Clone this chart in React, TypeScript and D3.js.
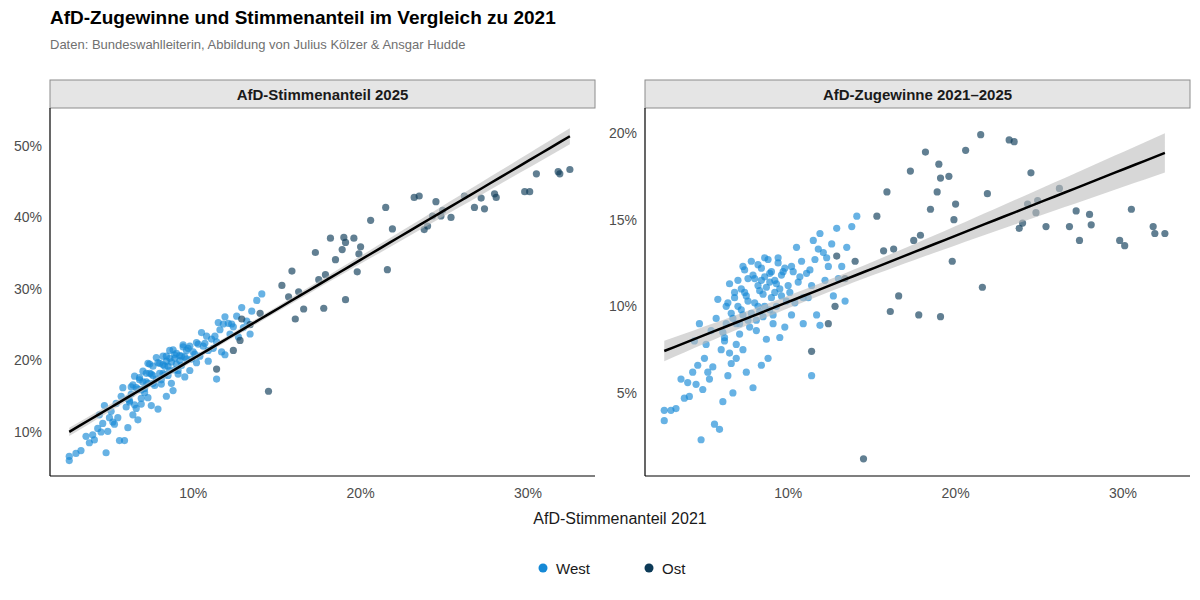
import * as d3 from "d3";
import * as React from "react";

// [AfD share 2021, gain 2021–2025] in percentage points
const westPoints: [number, number][] = [
  [2.6, 4.0], [2.6, 3.4], [3.0, 4.0], [3.3, 4.1], [3.6, 5.8], [3.8, 4.7], [4.0, 5.6], [4.1, 4.8],
  [4.3, 6.2], [4.5, 5.5], [4.6, 6.6], [4.8, 2.3], [4.9, 5.2], [5.1, 7.8], [5.3, 5.8], [5.4, 8.6],
  [5.5, 6.5], [5.6, 3.2], [5.7, 9.3], [5.9, 2.9], [5.8, 10.4], [6.0, 7.5], [6.1, 4.5], [6.2, 8.0],
  [6.3, 10.0], [6.5, 7.3], [6.6, 6.7], [6.7, 5.0], [4.4, 8.0], [5.0, 7.0], [5.2, 6.2], [4.7, 9.0],
  [6.1, 8.5], [6.3, 9.0], [6.6, 9.6], [6.4, 10.2], [6.8, 10.8], [6.5, 11.3], [6.9, 7.8], [6.2, 8.2],
  [6.7, 9.3], [6.4, 6.0], [6.9, 7.0], [6.8, 10.5], [7.1, 9.0], [7.3, 9.5], [7.0, 10.0], [7.5, 10.6],
  [7.2, 11.0], [7.6, 11.6], [7.4, 12.1], [7.8, 12.6], [7.1, 8.4], [7.7, 8.8], [7.3, 7.5], [7.5, 6.2],
  [7.9, 5.3], [7.9, 11.8], [7.6, 10.3], [7.2, 9.8], [8.1, 9.2], [8.3, 9.7], [8.0, 10.2], [8.5, 10.7],
  [8.2, 11.2], [8.6, 11.7], [8.4, 12.2], [8.8, 12.7], [8.1, 8.6], [8.7, 8.1], [8.9, 11.9], [8.3, 10.9],
  [8.6, 10.0], [8.9, 11.4], [8.2, 12.4], [8.5, 9.4], [8.8, 7.0], [8.4, 6.6], [9.1, 9.5], [9.3, 10.0],
  [9.0, 10.5], [9.5, 11.0], [9.2, 11.5], [9.7, 12.0], [9.4, 12.5], [9.8, 8.8], [9.1, 9.0], [9.6, 11.8],
  [9.9, 10.3], [9.3, 11.3], [9.8, 12.2], [9.5, 8.2], [10.2, 9.5], [10.4, 10.2], [10.1, 10.8], [10.6, 11.4],
  [10.3, 12.0], [10.8, 12.6], [10.5, 13.4], [10.9, 9.0], [10.7, 11.7], [10.2, 12.3], [10.9, 10.5], [11.2, 10.5],
  [11.4, 11.2], [11.1, 11.9], [11.6, 12.7], [11.8, 13.3], [11.5, 13.8], [11.9, 14.2], [11.4, 6.0], [11.7, 9.5],
  [11.3, 12.1], [11.9, 8.9], [12.2, 11.5], [12.4, 12.3], [12.1, 13.1], [12.6, 13.6], [12.9, 14.5], [12.7, 10.6],
  [12.3, 12.8], [13.2, 12.3], [13.5, 13.4], [13.8, 14.6], [13.4, 10.3], [13.0, 11.6], [14.1, 15.2], [7.0, 11.5],
  [7.4, 10.8], [7.8, 9.6], [8.0, 11.6], [8.2, 10.0], [8.7, 11.1], [9.0, 12.0], [9.2, 10.8], [8.9, 9.8],
  [7.6, 9.2], [6.9, 9.0], [8.4, 11.5], [9.6, 10.6], [10.0, 11.2], [7.3, 12.3], [8.6, 12.8], [9.4, 12.8],
];

const eastPoints: [number, number][] = [
  [14.5, 1.2], [15.3, 15.2], [15.7, 13.2], [15.9, 16.6], [16.1, 9.7], [16.3, 13.3], [16.6, 10.6], [17.3, 17.8],
  [17.5, 13.8], [17.9, 14.1], [17.8, 9.5], [18.2, 18.9], [18.5, 15.6], [18.9, 16.6], [19.1, 17.4], [19.0, 18.2],
  [19.1, 9.4], [19.6, 17.5], [19.8, 12.6], [19.9, 15.0], [20.0, 15.9], [20.6, 19.0], [21.5, 19.9], [21.6, 11.1],
  [21.9, 16.5], [23.2, 19.6], [23.5, 19.5], [23.8, 14.5], [24.0, 14.8], [24.3, 15.9], [24.5, 17.7], [24.8, 15.4],
  [24.9, 16.1], [25.4, 14.6], [26.2, 16.8], [26.8, 14.6], [27.2, 15.5], [27.4, 13.8], [28.0, 15.3], [28.1, 14.7],
  [29.8, 13.8], [30.1, 13.5], [30.5, 15.6], [31.8, 14.6], [31.9, 14.2], [32.5, 14.2], [11.4, 7.4], [12.4, 9.0],
  [12.8, 10.0], [12.9, 12.9], [14.0, 12.6], [13.4, 11.6],
];

const leftYTicks = [10, 20, 30, 40, 50];
const rightYTicks = [5, 10, 15, 20];
const xTicks = [10, 20, 30];

const westColor = "#1589d6";
const eastColor = "#0c3a57";
const font = "Arial, 'Liberation Sans', sans-serif";

interface Row { x: number; share: number; gain: number; east: boolean }

const rows: Row[] = [
  ...westPoints.map(([x, g]) => ({ x, share: x + g, gain: g, east: false })),
  ...eastPoints.map(([x, g]) => ({ x, share: x + g, gain: g, east: true })),
];

function fit(xs: number[], ys: number[]) {
  const n = xs.length;
  const mx = d3.mean(xs)!;
  const my = d3.mean(ys)!;
  const sxx = d3.sum(xs, (x) => (x - mx) ** 2);
  const sxy = d3.sum(xs, (x, i) => (x - mx) * (ys[i] - my));
  const b = sxy / sxx;
  const a = my - b * mx;
  const s = Math.sqrt(d3.sum(xs, (x, i) => (ys[i] - a - b * x) ** 2) / (n - 2));
  return (x: number) => {
    const y = a + b * x;
    const se = 1.97 * s * Math.sqrt(1 / n + (x - mx) ** 2 / sxx);
    return [y, y - se, y + se];
  };
}

function Panel(props: {
  left: number; title: string; yDomain: [number, number]; yTicks: number[]; value: (r: Row) => number;
}) {
  const { left, title, yDomain, yTicks, value } = props;
  const w = 545, top = 108, bottom = 476;
  const x = d3.scaleLinear().domain([1.45, 34]).range([left, left + w]);
  const y = d3.scaleLinear().domain(yDomain).range([bottom, top]);
  const f = fit(rows.map((r) => r.x), rows.map(value));
  const xExt = d3.extent(rows, (r) => r.x) as [number, number];
  const xs = d3.range(0, 51).map((i) => xExt[0] + ((xExt[1] - xExt[0]) * i) / 50);
  const band = d3.area<number>().x((d) => x(d)).y0((d) => y(f(d)[1])).y1((d) => y(f(d)[2]))(xs)!;
  const line = d3.line<number>().x((d) => x(d)).y((d) => y(f(d)[0]))(xs)!;
  return (
    <g fontFamily={font}>
      <rect x={left} y={80} width={w} height={28} fill="#e5e5e5" stroke="#8c8c8c" />
      <text x={left + w / 2} y={100} textAnchor="middle" fontSize={15} fontWeight="bold" fill="#1a1a1a">{title}</text>
      {rows.map((r, i) => (
        <circle key={i} cx={x(r.x)} cy={y(value(r))} r={3.6}
          fill={r.east ? eastColor : westColor} fillOpacity={0.65} />
      ))}
      <path d={band} fill="#bdbdbd" fillOpacity={0.6} />
      <path d={line} fill="none" stroke="#000" strokeWidth={2.5} />
      <line x1={left} x2={left} y1={top} y2={bottom} stroke="#000" strokeWidth={1.2} />
      <line x1={left} x2={left + w} y1={bottom} y2={bottom} stroke="#000" strokeWidth={1.2} />
      {yTicks.map((t) => (
        <text key={t} x={left - 8} y={y(t) + 5} textAnchor="end" fontSize={14} fill="#4d4d4d">{t}%</text>
      ))}
      {xTicks.map((t) => (
        <text key={t} x={x(t)} y={bottom + 22} textAnchor="middle" fontSize={14} fill="#4d4d4d">{t}%</text>
      ))}
    </g>
  );
}

export default function App() {
  return (
    <svg width={1200} height={600} style={{ position: "absolute", left: 0, top: 0, background: "#fff" }}>
      <rect width={1200} height={600} fill="#fff" />
      <text x={50} y={24} fontFamily={font} fontSize={19} fontWeight="bold" fill="#000">
        AfD-Zugewinne und Stimmenanteil im Vergleich zu 2021
      </text>
      <text x={50} y={49} fontFamily={font} fontSize={13} fill="#707070">
        Daten: Bundeswahlleiterin, Abbildung von Julius Kölzer &amp; Ansgar Hudde
      </text>
      <Panel left={50} title="AfD-Stimmenanteil 2025" yDomain={[3.85, 55.3]} yTicks={leftYTicks} value={(r) => r.share} />
      <Panel left={645} title="AfD-Zugewinne 2021–2025" yDomain={[0.21, 21.44]} yTicks={rightYTicks} value={(r) => r.gain} />
      <text x={620} y={524} textAnchor="middle" fontFamily={font} fontSize={16} fill="#1a1a1a">AfD-Stimmenanteil 2021</text>
      <g fontFamily={font} fontSize={15} fill="#1a1a1a">
        <circle cx={543} cy={568} r={4.5} fill={westColor} />
        <text x={556} y={574}>West</text>
        <circle cx={649} cy={568} r={4.5} fill={eastColor} />
        <text x={662} y={574}>Ost</text>
      </g>
    </svg>
  );
}
